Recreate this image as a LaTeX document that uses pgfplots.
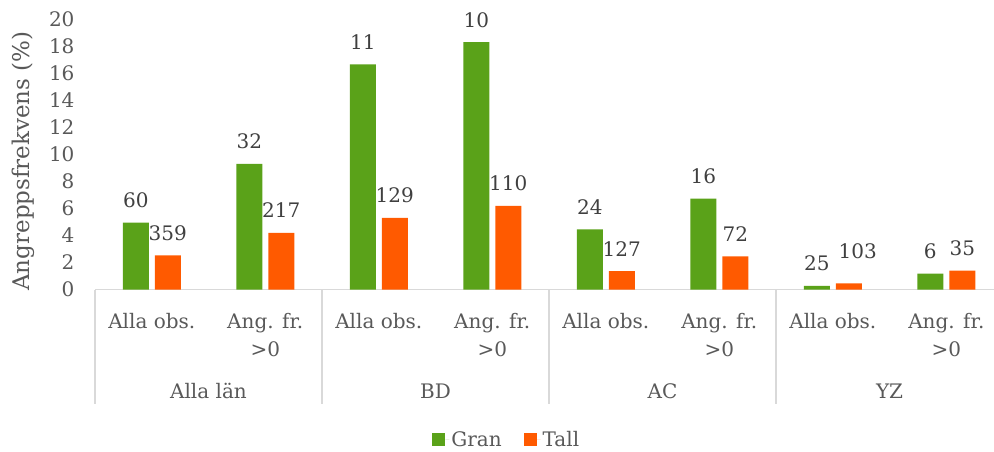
\documentclass[border=0pt]{standalone}
\usepackage{fontspec}
\setmainfont{DejaVu Serif}
\usepackage{pgfplots}
\usepackage{pgfplotstable}
\pgfplotsset{compat=1.18}

\definecolor{gran}{HTML}{5AA219}
\definecolor{tall}{HTML}{FF5A00}
\definecolor{txt}{HTML}{595959}
\definecolor{lbl}{HTML}{404040}
\definecolor{axl}{HTML}{D9D9D9}

% x = category, y = attack frequency (%), lbl = count, dx/dy = label nudge
\pgfplotstableread{
x y     lbl dx dy
0 4.95  60  0  0
1 9.30  32  0  0
2 16.68 11  0  0
3 18.33 10  0  0
4 4.46  24  0  0
5 6.73  16  0  0
6 0.26  25  0  0
7 1.17  6   0  0
}\gran
\pgfplotstableread{
x y     lbl dx dy
0 2.53  359 0  0
1 4.19  217 0  0
2 5.30  129 0  0
3 6.19  110 0  0
4 1.37  127 0  0
5 2.46  72  0  0
6 0.46  103 9  10
7 1.39  35  0  0
}\tall

\begin{document}
\begin{tikzpicture}[x=1pt,y=1pt,font=\fontsize{20}{28}\selectfont]
\path[use as bounding box] (0,0) rectangle (994,451);
\begin{axis}[
    at={(95pt,161.5pt)}, anchor=south west,
    scale only axis, width=899pt, height=270pt,
    xmin=-0.5, xmax=7.42, ymin=0, ymax=20,
    ybar=6pt, bar width=26pt,
    clip=false,
    axis x line*=bottom, axis y line*=left,
    x axis line style={axl, line width=1.3pt, -},
    y axis line style={draw=none},
    tick style={draw=none},
    ytick={0,2,...,20},
    xtick={0,...,7},
    xticklabels={Alla obs., {Ang. fr.\\>0}, Alla obs., {Ang. fr.\\>0},
                 Alla obs., {Ang. fr.\\>0}, Alla obs., {Ang. fr.\\>0}},
    xticklabel style={align=center, text=txt, yshift=-16pt},
    yticklabel style={text=txt, xshift=-17pt},
    /pgf/number format/assume math mode=true,
    point meta=explicit symbolic,
    visualization depends on={\thisrow{dx} \as \dx},
    visualization depends on={\thisrow{dy} \as \dy},
    nodes near coords,
    every node near coord/.append style={text=lbl, anchor=base,
        xshift=\dx pt, yshift=15pt+\dy pt},
    legend style={at={(0.458,-0.557)}, anchor=center, draw=none,
                  legend columns=2, text=txt,
                  /tikz/every even column/.append style={column sep=20pt}},
    legend image code/.code={\fill[#1] (0pt,-6.5pt) rectangle (13pt,6.5pt);
                             \path (13pt,0pt) -- (17pt,0pt);},
]
\addplot[fill=gran, draw=none] table[x=x, y=y, meta=lbl] {\gran};
\addplot[fill=tall, draw=none] table[x=x, y=y, meta=lbl] {\tall};
\legend{Gran, Tall}

% group separators and group names
\pgfplotsinvokeforeach{-0.5,1.5,3.5,5.5}{
    \draw[axl, line width=1.3pt] (axis cs:#1,0) -- ++(0pt,-114.5pt);
}
\node[text=txt, anchor=base] at ([yshift=-108.8pt]axis cs:0.5,0) {Alla län};
\node[text=txt, anchor=base] at ([yshift=-108.8pt]axis cs:2.5,0) {BD};
\node[text=txt, anchor=base] at ([yshift=-108.8pt]axis cs:4.5,0) {AC};
\node[text=txt, anchor=base] at ([yshift=-108.8pt]axis cs:6.5,0) {YZ};
\end{axis}
\node[rotate=90, text=txt, font=\fontsize{23}{28}\selectfont] at (23,290) {Angreppsfrekvens (\%)};
\end{tikzpicture}
\end{document}
